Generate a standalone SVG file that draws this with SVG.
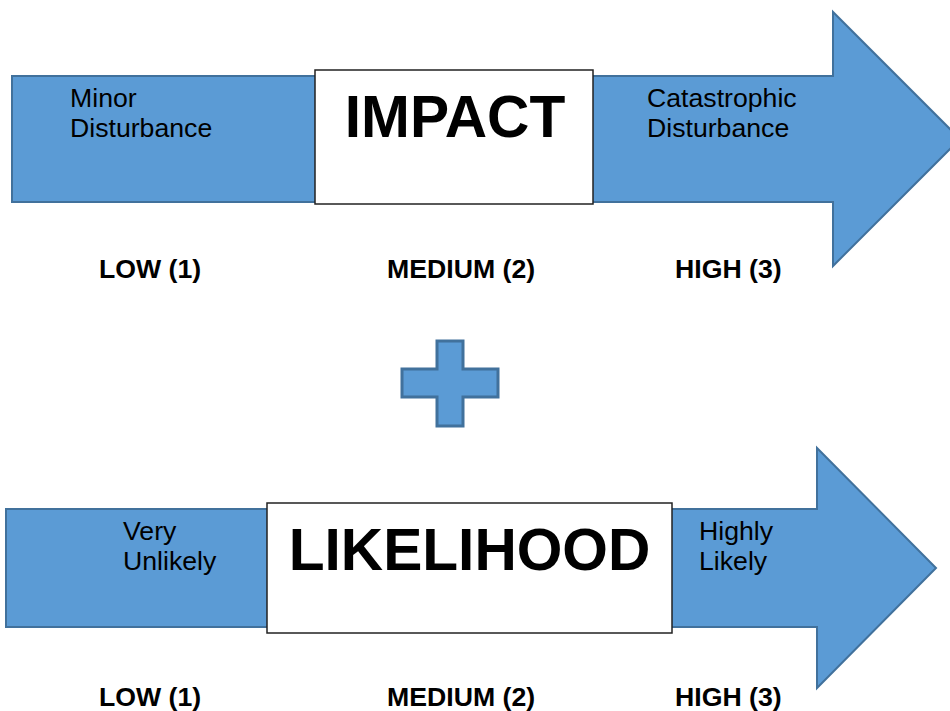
<svg xmlns="http://www.w3.org/2000/svg" width="950" height="711" viewBox="0 0 950 711">
<style>
.arrow{fill:#5B9BD5;stroke:#41719C;stroke-width:2}
.plus{fill:#5B9BD5;stroke:#41719C;stroke-width:3}
.box{fill:#fff;stroke:#222;stroke-width:1.5}
.t{font-family:"Liberation Sans",Arial,sans-serif;font-size:26.67px;fill:#000}
.b{font-family:"Liberation Sans",Arial,sans-serif;font-size:26.67px;font-weight:bold;fill:#000}
.title{font-family:"Liberation Sans",Arial,sans-serif;font-size:58.67px;font-weight:bold;fill:#000;text-anchor:middle}
</style>
<rect width="950" height="711" fill="#fff"/>
<g id="impact">
<polygon class="arrow" points="12,76 833,76 833,12 960,139 833,266 833,202 12,202"/>
<rect class="box" x="315" y="70" width="278" height="134"/>
<text class="title" x="455" y="137">IMPACT</text>
<text class="t" x="70" y="107">Minor</text>
<text class="t" x="70" y="137">Disturbance</text>
<text class="t" x="647" y="107">Catastrophic</text>
<text class="t" x="647" y="137">Disturbance</text>
<text class="b" x="99" y="278">LOW (1)</text>
<text class="b" x="387" y="278">MEDIUM (2)</text>
<text class="b" x="675" y="278">HIGH (3)</text>
</g>
<g id="plus">
<polygon class="plus" points="437,341 463,341 463,369 498,369 498,397 463,397 463,426 437,426 437,397 402,397 402,369 437,369"/>
</g>
<g id="likelihood">
<polygon class="arrow" points="6,509 817,509 817,448 936,568 817,688 817,627 6,627"/>
<rect class="box" x="267" y="503" width="405" height="130"/>
<text class="title" x="469.5" y="570">LIKELIHOOD</text>
<text class="t" x="123" y="540">Very</text>
<text class="t" x="123" y="570">Unlikely</text>
<text class="t" x="699" y="540">Highly</text>
<text class="t" x="699" y="570">Likely</text>
<text class="b" x="99" y="706">LOW (1)</text>
<text class="b" x="387" y="706">MEDIUM (2)</text>
<text class="b" x="675" y="706">HIGH (3)</text>
</g>
<g id="connectors"></g>
</svg>
